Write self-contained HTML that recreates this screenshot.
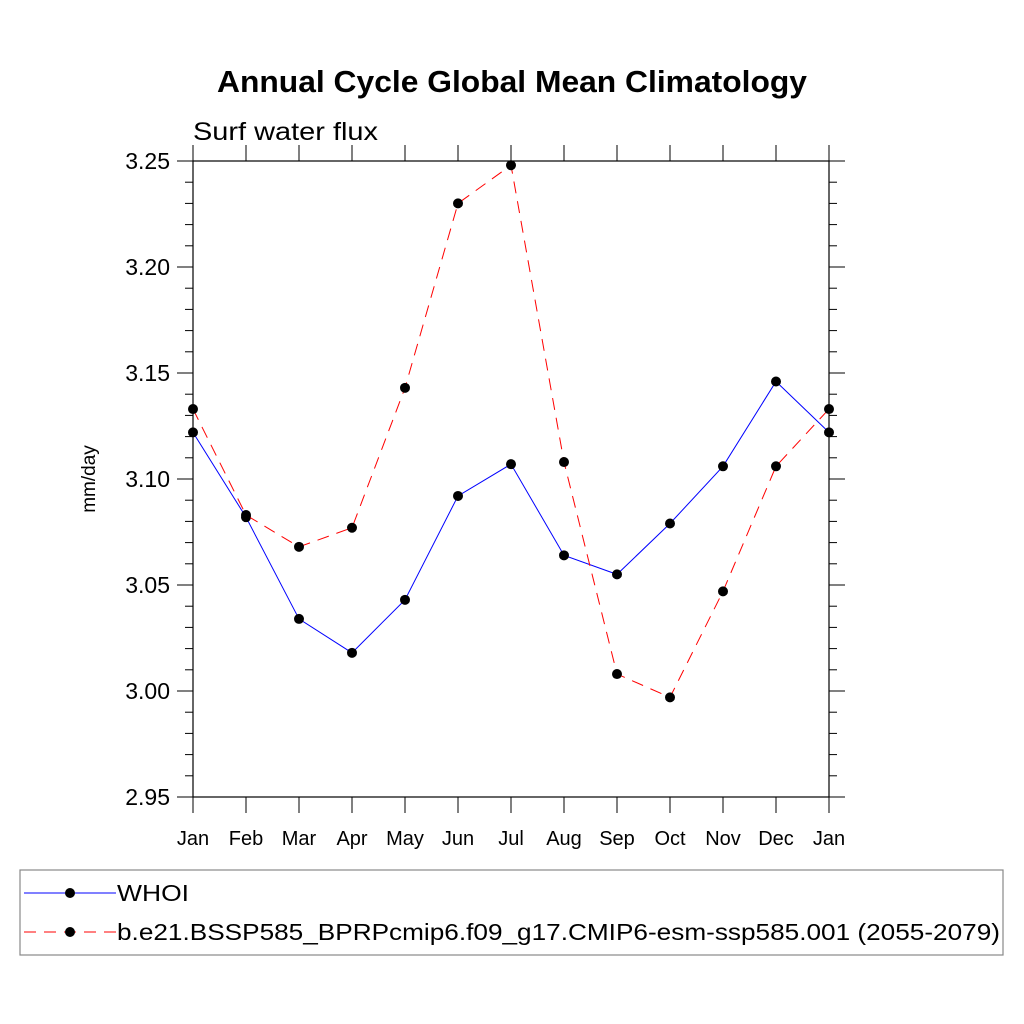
<!DOCTYPE html>
<html><head><meta charset="utf-8"><style>body{margin:0;background:#fff}svg{display:block;font-family:"Liberation Sans",sans-serif}</style></head>
<body>
<svg id="chart" width="1024" height="1024">
<text x="217" y="92" font-size="31" font-weight="bold" textLength="590" lengthAdjust="spacingAndGlyphs">Annual Cycle Global Mean Climatology</text>
<text x="193" y="140" font-size="25" textLength="185" lengthAdjust="spacingAndGlyphs">Surf water flux</text>
<text transform="translate(95,479) rotate(-90)" text-anchor="middle" font-size="19">mm/day</text>
<g id="axes"></g>
<g id="series"></g>
<rect x="20" y="870" width="983" height="85" fill="none" stroke="#888" stroke-width="1.2"/>
<g>
<line x1="24" y1="893" x2="116" y2="893" stroke="#00f" stroke-width="1"/>
<circle cx="70" cy="893" r="5" fill="#000"/>
<text x="117" y="901" font-size="23" textLength="72" lengthAdjust="spacingAndGlyphs">WHOI</text></g>
<g>
<line x1="24" y1="932" x2="116" y2="932" stroke="#f00" stroke-width="1" stroke-dasharray="12,8"/>
<circle cx="70" cy="932" r="5" fill="#000"/>
<text x="117" y="940" font-size="23" textLength="883" lengthAdjust="spacingAndGlyphs">b.e21.BSSP585_BPRPcmip6.f09_g17.CMIP6-esm-ssp585.001 (2055-2079)</text></g>
</svg>
<script>
const months=["Jan","Feb","Mar","Apr","May","Jun","Jul","Aug","Sep","Oct","Nov","Dec","Jan"];
const whoi=[3.122,3.082,3.034,3.018,3.043,3.092,3.107,3.064,3.055,3.079,3.106,3.146,3.122];
const cesm=[3.133,3.083,3.068,3.077,3.143,3.230,3.248,3.108,3.008,2.997,3.047,3.106,3.133];
const yTicks=["2.95","3.00","3.05","3.10","3.15","3.20","3.25"];
const X0=193,X1=829,Y0=797,Y1=161,ymin=2.95,ymax=3.25;
const xs=i=>X0+i*(X1-X0)/(months.length-1);
const ys=v=>Y0-(v-ymin)/(ymax-ymin)*(Y0-Y1);
const NS="http://www.w3.org/2000/svg";
function mk(tag,at,parent){const e=document.createElementNS(NS,tag);for(const k in at)e.setAttribute(k,at[k]);parent.appendChild(e);return e;}
const ax=document.getElementById('axes');
const fr=mk('rect',{x:X0,y:Y1,width:X1-X0,height:Y0-Y1,fill:'none',stroke:'#000','stroke-width':1.2},ax);


months.forEach((m,i)=>{const x=xs(i);
mk('line',{x1:x,y1:Y0,x2:x,y2:Y0+16,stroke:'#000'},ax);
mk('line',{x1:x,y1:Y1,x2:x,y2:Y1-16,stroke:'#000'},ax);
const t=mk('text',{x:x,y:Y0+48,'text-anchor':'middle','font-size':20},ax);t.textContent=m;

});
for(let k=0;k<=30;k++){const v=ymin+k*0.01,y=ys(v),maj=k%5==0,L=maj?16:8;
mk('line',{x1:X0,y1:y,x2:X0-L,y2:y,stroke:'#000'},ax);
mk('line',{x1:X1,y1:y,x2:X1+L,y2:y,stroke:'#000'},ax);}
yTicks.forEach(s=>{const t=mk('text',{x:X0-23,y:ys(+s)+8,'text-anchor':'end','font-size':23},ax);t.textContent=s;

});
const sg=document.getElementById('series');
function draw(vals,color,dash,name){const g=mk('g',{},sg);


mk('polyline',{points:vals.map((v,i)=>xs(i)+','+ys(v)).join(' '),fill:'none',stroke:color,'stroke-width':1,'stroke-dasharray':dash},g);
vals.forEach((v,i)=>{const c=mk('circle',{cx:xs(i),cy:ys(v),r:5,fill:'#000'},g);

});}
draw(whoi,'#00f','none','series-whoi');
draw(cesm,'#f00','12,8','series-cesm');
</script>
</body></html>
